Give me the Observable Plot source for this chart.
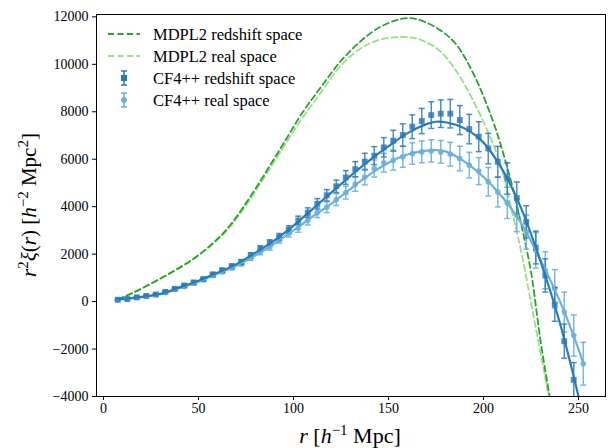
<!DOCTYPE html>
<html><head><meta charset="utf-8">
<script src="https://cdn.jsdelivr.net/npm/d3@7"></script>
<script src="https://cdn.jsdelivr.net/npm/@observablehq/plot@0.6"></script>
<style>body{margin:0;background:#fff} svg{display:block}</style>
</head><body><div id="chart"></div>
<script>
// CF4++ bins
const r = [7.5,12.5,17.5,22.5,27.5,32.5,37.5,42.5,47.5,52.5,57.5,62.5,67.5,72.5,77.5,82.5,87.5,92.5,97.5,102.5,107.5,112.5,117.5,122.5,127.5,132.5,137.5,142.5,147.5,152.5,157.5,162.5,167.5,172.5,177.5,182.5,187.5,192.5,197.5,202.5,207.5,212.5,217.5,222.5,227.5,232.5,237.5,242.5,247.5,252.5];
const cfRedshift = [80,110,180,240,300,410,540,680,810,950,1150,1320,1490,1670,1950,2230,2470,2720,3030,3420,3750,4120,4480,4860,5230,5580,5900,6150,6500,6780,7020,7370,7610,7860,7920,7920,7650,7270,6950,6450,5890,5190,4370,3360,2280,1100,-120,-1670,-3300,-5000];
const cfRedshiftErr = [15,20,25,30,35,40,45,50,55,60,70,80,90,100,110,120,135,150,165,180,200,220,240,260,290,320,350,380,410,440,470,500,530,560,580,600,610,620,630,640,650,660,670,680,690,700,710,720,730,740];
const cfReal = [75,100,170,230,290,390,510,640,770,910,1090,1260,1430,1600,1840,2090,2300,2610,2880,3100,3420,3750,3980,4300,4590,4950,5250,5610,5850,5960,6100,6240,6310,6350,6310,6210,6030,5750,5500,5050,4620,4160,3640,2930,2160,1320,540,-440,-1430,-2620];
const cfRealErr = [15,20,25,30,35,40,45,50,55,60,65,75,85,95,105,115,130,145,160,175,190,210,230,250,270,300,330,360,390,420,440,450,460,470,480,500,520,540,570,600,630,660,690,720,750,780,810,840,870,900];
// smooth CF4++ model curves
const fitRedshiftR = [7.5,20,30,40,50,60,70,80,90,100,110,120,130,140,150,160,170,175,180,190,200,210,220,230,240,250,255];
const fitRedshift = [90,200,330,600,880,1220,1580,2060,2580,3200,3900,4600,5300,5950,6550,7100,7480,7580,7560,7300,6700,5550,3900,1700,-850,-4000,-5800];
const fitRealR = [7.5,20,30,40,50,60,70,80,90,100,110,120,130,140,150,160,170,175,180,190,200,210,220,230,240,250,252.5];
const fitReal = [85,190,310,570,840,1170,1510,1950,2450,3000,3580,4130,4750,5350,5850,6200,6360,6380,6330,5900,5250,4400,3280,1750,50,-2000,-2620];
// MDPL2 curves
const mdR = [7.5,15,25,35,45,55,65,75,85,95,105,115,125,135,145,155,160,165,175,185,195,205,210,215,220,225,230,235,240];
const mdRedshift = [100,350,760,1200,1680,2280,3060,4150,5400,6700,8000,9100,10150,10950,11550,11880,11950,11900,11550,10900,9550,7600,6350,4900,3200,1250,-1650,-4100,-6500];
const mdReal = [100,350,750,1190,1660,2250,3000,4050,5280,6550,7780,8880,9950,10650,11030,11150,11150,11080,10700,9800,8400,6650,5500,3800,2050,-50,-2150,-4300,-6600];
const xTicks = [0,50,100,150,200,250];
const yTicks = [-4000,-2000,0,2000,4000,6000,8000,10000,12000];
const legendLabels = ["MDPL2 redshift space","MDPL2 real space","CF4++ redshift space","CF4++ real space"];

const cDark = "#2a7ab8", cLight = "#6cb0da", gDark = "#2ca02c", gLight = "#98df8a";

const red = r.map((x,i)=>({r:x, v:cfRedshift[i], e:cfRedshiftErr[i]}));
const real = r.map((x,i)=>({r:x, v:cfReal[i], e:cfRealErr[i]}));
const fRed = fitRedshiftR.map((x,i)=>({r:x, v:fitRedshift[i]}));
const fReal = fitRealR.map((x,i)=>({r:x, v:fitReal[i]}));
const mRed = mdR.map((x,i)=>({r:x, v:mdRedshift[i]}));
const mReal = mdR.map((x,i)=>({r:x, v:mdReal[i]}));

const cap = {draw(ctx){ ctx.moveTo(-3,0); ctx.lineTo(3,0); }};

function errMarks(data, color, symbol, rad, op){
  return [
    Plot.ruleX(data, {x:"r", y1:d=>d.v-d.e, y2:d=>d.v+d.e, stroke:color, strokeWidth:1.5, strokeOpacity:op, clip:true}),
    Plot.dot(data, {x:"r", y:d=>d.v-d.e, symbol:cap, r:3, stroke:color, fill:"none", strokeWidth:1.5, strokeOpacity:op, clip:true}),
    Plot.dot(data, {x:"r", y:d=>d.v+d.e, symbol:cap, r:3, stroke:color, fill:"none", strokeWidth:1.5, strokeOpacity:op, clip:true}),
    Plot.dot(data, {x:"r", y:"v", symbol:symbol, r:rad, fill:color, fillOpacity:op, stroke:"none", clip:true})
  ];
}

const chart = Plot.plot({
  width: 609, height: 448,
  marginLeft: 96, marginRight: 4, marginTop: 14, marginBottom: 52,
  style: {fontFamily: "Liberation Serif", fontSize: "14px", color: "black", background: "white"},
  x: {domain: [-3.7, 264.2]},
  y: {domain: [-4000, 12100]},
  marks: [
    Plot.line(mReal, {x:"r", y:"v", stroke:gLight, strokeWidth:1.8, strokeDasharray:"6,3.5", curve:"catmull-rom", clip:true}),
    Plot.line(mRed, {x:"r", y:"v", stroke:gDark, strokeWidth:1.8, strokeDasharray:"6,3.5", curve:"catmull-rom", clip:true}),
    ...errMarks(real, cLight, "circle", 2.8, 0.9),
    ...errMarks(red, cDark, "square", 3.3, 0.85),
    Plot.line(fReal, {x:"r", y:"v", stroke:cLight, strokeWidth:2.2, curve:"catmull-rom", clip:true}),
    Plot.line(fRed, {x:"r", y:"v", stroke:cDark, strokeWidth:2.2, curve:"catmull-rom", clip:true}),
    Plot.axisX({ticks: xTicks, tickSize: 4, tickPadding: 3, label: null, tickFormat: d3.format("d")}),
    Plot.axisY({ticks: yTicks, tickSize: 4, tickPadding: 4, label: null, tickFormat: d3.format("d")}),
    Plot.frame({stroke: "black", strokeWidth: 1})
  ]
});
document.getElementById("chart").appendChild(chart);

const svg = d3.select(chart);
const ff = "Liberation Serif";
// x label
const xl = svg.append("text").attr("x", 350).attr("y", 443).attr("text-anchor","middle")
  .attr("font-family", ff).attr("font-size", 22).attr("fill","black");
xl.append("tspan").attr("font-style","italic").text("r");
xl.append("tspan").text(" [");
xl.append("tspan").attr("font-style","italic").text("h");
xl.append("tspan").attr("dy",-8).attr("font-size",15).text("−1");
xl.append("tspan").attr("dy",8).text(" Mpc]");
// y label
const yl = svg.append("text").attr("transform","translate(36,205) rotate(-90)").attr("text-anchor","middle")
  .attr("font-family", ff).attr("font-size", 21).attr("fill","black");
yl.append("tspan").attr("font-style","italic").text("r");
yl.append("tspan").attr("dy",-8).attr("font-size",15).text("2");
yl.append("tspan").attr("dy",8).attr("font-style","italic").text("ξ");
yl.append("tspan").text("(");
yl.append("tspan").attr("font-style","italic").text("r");
yl.append("tspan").text(") [");
yl.append("tspan").attr("font-style","italic").text("h");
yl.append("tspan").attr("dy",-8).attr("font-size",15).text("−2");
yl.append("tspan").attr("dy",8).text(" Mpc");
yl.append("tspan").attr("dy",-8).attr("font-size",15).text("2");
yl.append("tspan").attr("dy",8).text("]");

// legend
const lg = svg.append("g").attr("text-anchor","start");
const rows = [34, 56, 78, 100];
lg.append("line").attr("x1",108).attr("x2",140).attr("y1",rows[0]).attr("y2",rows[0]).attr("stroke",gDark).attr("stroke-width",1.8).attr("stroke-dasharray","6,3.5");
lg.append("line").attr("x1",108).attr("x2",140).attr("y1",rows[1]).attr("y2",rows[1]).attr("stroke",gLight).attr("stroke-width",1.8).attr("stroke-dasharray","6,3.5");
[[rows[2], cDark, "sq"], [rows[3], cLight, "ci"]].forEach(([y,c,s])=>{
  lg.append("line").attr("x1",124).attr("x2",124).attr("y1",y-7).attr("y2",y+7).attr("stroke",c).attr("stroke-width",1.5);
  lg.append("line").attr("x1",121).attr("x2",127).attr("y1",y-7).attr("y2",y-7).attr("stroke",c).attr("stroke-width",1.5);
  lg.append("line").attr("x1",121).attr("x2",127).attr("y1",y+7).attr("y2",y+7).attr("stroke",c).attr("stroke-width",1.5);
  if (s==="sq") lg.append("rect").attr("x",121).attr("y",y-3).attr("width",6).attr("height",6).attr("fill",c);
  else lg.append("circle").attr("cx",124).attr("cy",y).attr("r",3).attr("fill",c);
});
legendLabels.forEach((t,i)=>{
  lg.append("text").attr("x",153).attr("y",rows[i]).attr("dy","0.35em").attr("text-anchor","start").attr("font-family",ff).attr("font-size",16.5).attr("fill","black").text(t);
});
</script>
</body></html>
